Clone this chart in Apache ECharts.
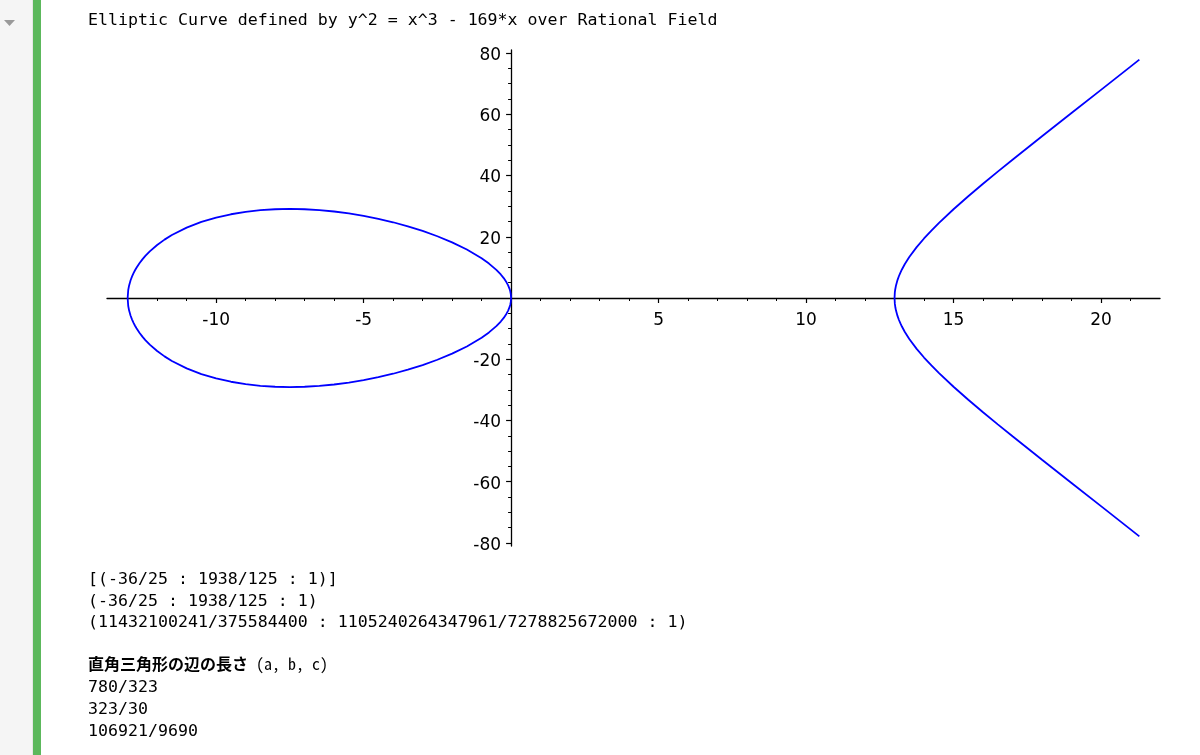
<!DOCTYPE html>
<html>
<head>
<meta charset="utf-8">
<script src="https://cdn.jsdelivr.net/npm/echarts@6/dist/echarts.min.js"></script>
<style>
html,body{margin:0;padding:0;background:#fff;}
#chart{width:1200px;height:755px;}
</style>
</head>
<body>
<div id="chart"></div>
<script>
// Text content
const titleText = 'Elliptic Curve defined by y^2 = x^3 - 169*x over Rational Field';
const outputLines = [
  '[(-36/25 : 1938/125 : 1)]',
  '(-36/25 : 1938/125 : 1)',
  '(11432100241/375584400 : 1105240264347961/7278825672000 : 1)',
  '',
  '直角三角形の辺の長さ (a, b, c)',
  '780/323',
  '323/30',
  '106921/9690'
];

// Axis ticks / labels
const xMajorTicks = [-10, -5, 5, 10, 15, 20];
const xMinorTicks = [-13, -12, -11, -9, -8, -7, -6, -4, -3, -2, -1, 1, 2, 3, 4, 6, 7, 8, 9, 11, 12, 13, 14, 16, 17, 18, 19, 21];
const yMajorTicks = [-80, -60, -40, -20, 20, 40, 60, 80];
const yMinorTicks = [-75, -70, -65, -55, -50, -45, -35, -30, -25, -15, -10, -5, 5, 10, 15, 25, 30, 35, 45, 50, 55, 65, 70, 75];
const xRange = [-13.7, 22];
const yRange = [-81, 81];

// Oval component, traced as a closed loop: upper half left->right, lower half right->left
const ovalX = [
  -13, -12.98, -12.95, -12.9, -12.85, -12.8, -12.75, -12.7, -12.6, -12.5, -12.4, -12.25, -12, -11.75, -11.5, -11, -10.5, -10,
  -9.5, -9, -8.5, -8, -7.5, -7, -6.5, -6, -5.5, -5, -4.5, -4, -3.5, -3, -2.5, -2, -1.5, -1, -0.75, -0.5, -0.35, -0.25,
  -0.15, -0.1, -0.05, -0.03, -0.01, 0,
  -0.01, -0.03, -0.05, -0.1, -0.15, -0.25, -0.35, -0.5, -0.75, -1, -1.5, -2, -2.5, -3, -3.5, -4, -4.5, -5, -5.5, -6, -6.5,
  -7, -7.5, -8, -8.5, -9, -9.5, -10, -10.5, -11, -11.5, -11.75, -12, -12.25, -12.4, -12.5, -12.6, -12.7, -12.75, -12.8,
  -12.85, -12.9, -12.95, -12.98, -13
];
const ovalY = [
  0, 2.6, 4.1, 5.78, 7.06, 8.13, 9.06, 9.9, 11.36, 12.62, 13.75, 15.23, 17.32, 19.07, 20.56, 22.98, 24.84, 26.27,
  27.35, 28.14, 28.68, 28.98, 29.08, 28.98, 28.7, 28.25, 27.62, 26.83, 25.87, 24.74, 23.42, 21.91, 20.17, 18.17, 15.82, 12.96, 11.24, 9.19, 7.69, 6.5,
  5.03, 4.11, 2.91, 2.25, 1.3, 0,
  -1.3, -2.25, -2.91, -4.11, -5.03, -6.5, -7.69, -9.19, -11.24, -12.96, -15.82, -18.17, -20.17, -21.91, -23.42, -24.74, -25.87, -26.83, -27.62, -28.25, -28.7,
  -28.98, -29.08, -28.98, -28.68, -28.14, -27.35, -26.27, -24.84, -22.98, -20.56, -19.07, -17.32, -15.23, -13.75, -12.62, -11.36, -9.9, -9.06, -8.13,
  -7.06, -5.78, -4.1, -2.6, 0
];

// Unbounded branch: lower end -> vertex -> upper end
const branchX = [
  21.3, 21, 20, 19, 18, 17, 16.5, 16, 15.5, 15, 14.5, 14.25, 14, 13.75, 13.5, 13.35, 13.25, 13.2, 13.15, 13.1, 13.05, 13.03, 13.02, 13.01, 13,
  13.01, 13.02, 13.03, 13.05, 13.1, 13.15, 13.2, 13.25, 13.35, 13.5, 13.75, 14, 14.25, 14.5, 15, 15.5, 16, 16.5, 17, 18, 19, 20, 21, 21.3
];
const branchY = [
  -77.87, -75.58, -67.97, -60.4, -52.82, -45.17, -41.27, -37.31, -33.23, -28.98, -24.46, -22.03, -19.44, -16.61, -13.37, -11.1, -9.32, -8.32, -7.18, -5.85, -4.12, -3.19, -2.6, -1.84, 0,
  1.84, 2.6, 3.19, 4.12, 5.85, 7.18, 8.32, 9.32, 11.1, 13.37, 16.61, 19.44, 22.03, 24.46, 28.98, 33.23, 37.31, 41.27, 45.17, 52.82, 60.4, 67.97, 75.58, 77.87
];

const zip = (xs, ys) => xs.map((x, i) => [x, ys[i]]);

const chart = echarts.init(document.getElementById('chart'), null, {renderer: 'canvas'});

const mono = '"DejaVu Sans Mono", "Liberation Mono", monospace';
const cjkMono = '"Noto Sans Mono CJK JP", "Noto Sans CJK JP", monospace';
const labelFont = '"DejaVu Sans", sans-serif';

const graphics = [
  {type: 'rect', shape: {x: 0, y: 0, width: 32, height: 755}, style: {fill: '#f5f5f5'}, silent: true, z: 0},
  {type: 'rect', shape: {x: 32, y: 0, width: 1, height: 755}, style: {fill: '#e6e6e6'}, silent: true, z: 0},
  {type: 'rect', shape: {x: 33, y: 0, width: 8, height: 755}, style: {fill: '#5cb85c'}, silent: true, z: 0},
  {type: 'polygon', shape: {points: [[4, 20], [15, 20], [9.5, 26]]}, style: {fill: '#9a9a9a'}, silent: true, z: 1},
  {type: 'text', left: 88, top: 12, style: {text: titleText, font: '16.6px ' + mono, fill: '#000'}, silent: true}
];
outputLines.forEach((t, i) => {
  if (!t) return;
  const isJa = /[^\x00-\x7f]/.test(t);
  if (isJa) {
    const m = t.match(/^([^\x00-\x7f]+)(.*)$/);
    graphics.push({
      type: 'text', left: 88, top: 569 + i * 21.7,
      style: {
        text: '{c|' + m[1] + '}{l|' + m[2] + '}',
        rich: {
          c: {fontFamily: cjkMono, fontSize: 16, fontWeight: 'bold', fill: '#000'},
          l: {fontFamily: cjkMono, fontSize: 16, fill: '#000'}
        }
      },
      silent: true
    });
  } else {
    graphics.push({
      type: 'text', left: 88, top: 571 + i * 21.7,
      style: {text: t, font: '16.6px ' + mono, fill: '#000'},
      silent: true
    });
  }
});

const axisLineStyle = {color: '#000', width: 1.3};

chart.setOption({
  animation: false,
  backgroundColor: '#fff',
  grid: {left: 107, right: 40, top: 50, bottom: 209, containLabel: false},
  xAxis: [
    {
      type: 'value', position: 'bottom', min: xRange[0], max: xRange[1],
      axisLine: {show: true, onZero: false, lineStyle: axisLineStyle},
      axisTick: {show: true, length: 5, inside: false, customValues: xMajorTicks, lineStyle: {color: '#000', width: 1.2}},
      axisLabel: {show: true, customValues: xMajorTicks, margin: 14, color: '#000', fontFamily: labelFont, fontSize: 17},
      splitLine: {show: false}
    },
    {
      type: 'value', position: 'bottom', min: xRange[0], max: xRange[1],
      axisLine: {show: false, onZero: false},
      axisTick: {show: true, length: 3, inside: false, customValues: xMinorTicks, lineStyle: {color: '#000', width: 1}},
      axisLabel: {show: false},
      splitLine: {show: false}
    }
  ],
  yAxis: [
    {
      type: 'value', position: 'left', min: yRange[0], max: yRange[1],
      axisLine: {show: true, onZero: false, lineStyle: axisLineStyle},
      axisTick: {show: true, length: 5, inside: false, customValues: yMajorTicks, lineStyle: {color: '#000', width: 1.2}},
      axisLabel: {
        show: true, customValues: yMajorTicks, margin: 10, color: '#000',
        formatter: v => '{v|' + v + '}',
        rich: {v: {fontFamily: labelFont, fontSize: 17, color: '#000', padding: [5, 0, 0, 0]}}
      },
      splitLine: {show: false}
    },
    {
      type: 'value', position: 'left', min: yRange[0], max: yRange[1],
      axisLine: {show: false, onZero: false},
      axisTick: {show: true, length: 3, inside: false, customValues: yMinorTicks, lineStyle: {color: '#000', width: 1}},
      axisLabel: {show: false},
      splitLine: {show: false}
    }
  ],
  graphic: graphics,
  series: [
    {
      type: 'line', name: 'oval', xAxisIndex: 0, yAxisIndex: 0,
      data: zip(ovalX, ovalY), showSymbol: false, smooth: false,
      lineStyle: {color: '#0000ff', width: 1.8}, z: 3
    },
    {
      type: 'line', name: 'branch', xAxisIndex: 0, yAxisIndex: 0,
      data: zip(branchX, branchY), showSymbol: false, smooth: false,
      lineStyle: {color: '#0000ff', width: 1.8}, z: 3
    }
  ]
});

// Move the axes so they cross at the origin (labels travel with them)
const zeroY = chart.convertToPixel({yAxisIndex: 0}, 0);
const bottomY = chart.convertToPixel({yAxisIndex: 0}, yRange[0]);
const zeroX = chart.convertToPixel({xAxisIndex: 0}, 0);
const leftX = chart.convertToPixel({xAxisIndex: 0}, xRange[0]);
const xOff = zeroY - bottomY;
const yOff = leftX - zeroX;
chart.setOption({
  xAxis: [{offset: xOff}, {offset: xOff}],
  yAxis: [{offset: yOff}, {offset: yOff}]
});
</script>
</body>
</html>
